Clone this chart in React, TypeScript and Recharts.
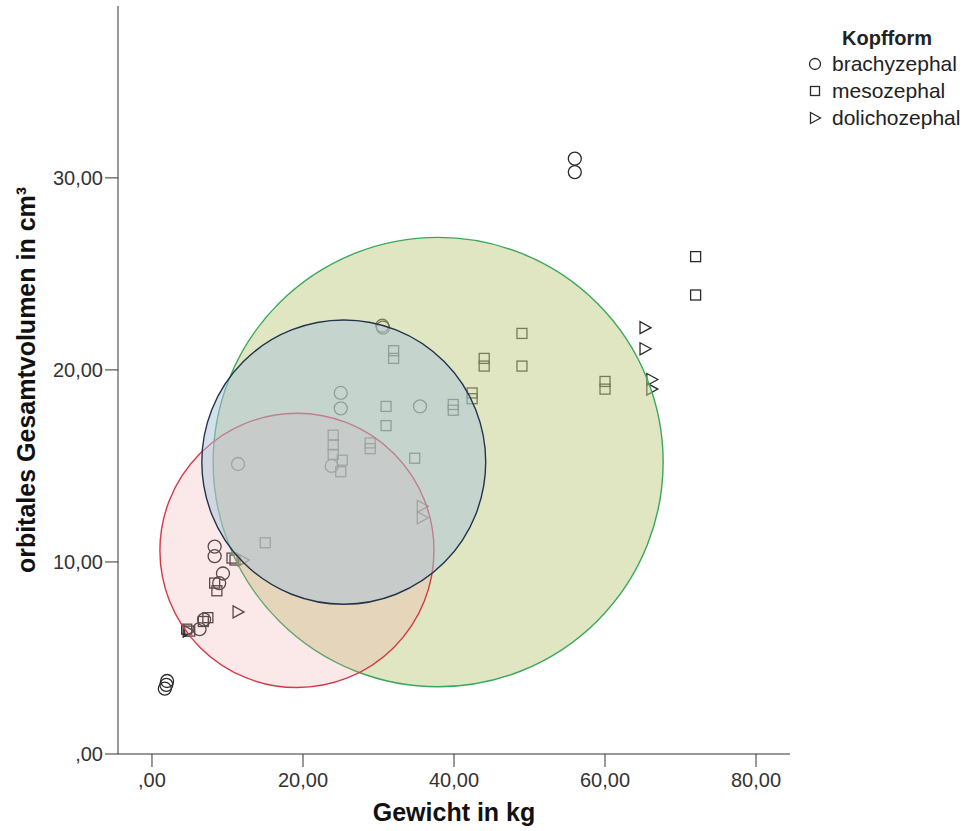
import React from 'react';
import { ScatterChart, Scatter, XAxis, YAxis, ReferenceArea, Legend } from 'recharts';

// Kopfform groups (weight in kg, orbital volume in cm³)
const brachyWeight = [1.7, 1.9, 2.0, 8.3, 8.3, 9.4, 8.9, 6.9, 6.3, 11.4, 23.8, 25.0, 25.0, 30.5, 30.6, 35.5, 56.0, 56.0];
const brachyVolume = [3.4, 3.6, 3.8, 10.8, 10.3, 9.4, 8.9, 7.0, 6.5, 15.1, 15.0, 18.8, 18.0, 22.3, 22.2, 18.1, 31.0, 30.3];

const mesoWeight = [4.6, 5.0, 7.4, 6.8, 8.3, 8.6, 10.6, 11.0, 15.0, 24.0, 24.0, 24.0, 25.2, 25.0, 28.9, 28.9, 31.0, 31.0, 32.0, 32.0, 34.8, 39.9, 39.9, 42.4, 42.4, 44.0, 44.0, 49.0, 49.0, 60.0, 60.0, 72.0, 72.0];
const mesoVolume = [6.5, 6.4, 7.1, 6.9, 8.9, 8.5, 10.2, 10.1, 11.0, 16.6, 16.1, 15.6, 15.3, 14.7, 16.2, 15.9, 18.1, 17.1, 21.0, 20.6, 15.4, 18.2, 17.9, 18.8, 18.5, 20.6, 20.2, 21.9, 20.2, 19.4, 19.0, 25.9, 23.9];

const dolichoWeight = [65.3, 65.3, 66.2, 66.2, 35.8, 35.8, 11.4, 12.1, 4.8];
const dolichoVolume = [22.2, 21.1, 19.5, 19.0, 12.9, 12.3, 7.4, 10.1, 6.4];

const groupNames = ['brachyzephal', 'mesozephal', 'dolichozephal'];

// ellipses in drawing order: green, red, blue (centre and half-axes in data units)
const ellipseCx = [37.9, 19.2, 25.4];
const ellipseCy = [15.2, 10.6, 15.2];
const ellipseRx = [29.8, 18.15, 18.8];
const ellipseRy = [11.7, 7.14, 7.4];

const xTicks = [0, 20, 40, 60, 80];
const yTicks = [0, 10, 20, 30];

const toPoints = (xs: number[], ys: number[]) => xs.map((x, i) => ({ x, y: ys[i] }));
const brachyData = toPoints(brachyWeight, brachyVolume);
const mesoData = toPoints(mesoWeight, mesoVolume);
const dolichoData = toPoints(dolichoWeight, dolichoVolume);

const fmt = (v: number) => (v === 0 ? ',00' : v.toFixed(2).replace('.', ','));

const FONT = '"Liberation Sans", Arial, sans-serif';
const INK = '#2a2a2a';

const CircleMark = (p: any) => (
  <circle cx={p.cx} cy={p.cy} r={6.5} fill="none" stroke={INK} strokeWidth={1.3} />
);
const SquareMark = (p: any) => (
  <rect x={p.cx - 5} y={p.cy - 5} width={10} height={10} fill="none" stroke={INK} strokeWidth={1.3} />
);
const TriangleMark = (p: any) => (
  <path
    d={`M${p.cx - 5},${p.cy - 6}L${p.cx + 6},${p.cy}L${p.cx - 5},${p.cy + 6}Z`}
    fill="none"
    stroke={INK}
    strokeWidth={1.3}
  />
);

const EllipseShape = (p: any) => (
  <ellipse
    cx={p.x + p.width / 2}
    cy={p.y + p.height / 2}
    rx={Math.abs(p.width) / 2}
    ry={Math.abs(p.height) / 2}
    fill={p.fill}
    fillOpacity={p.fillOpacity}
    stroke={p.stroke}
    strokeWidth={1.4}
  />
);

const ellipseStyles = [
  { fill: '#c4cd86', fillOpacity: 0.5, stroke: '#3aa85c' },
  { fill: '#efa3a6', fillOpacity: 0.25, stroke: '#d33a47' },
  { fill: '#a9c3d9', fillOpacity: 0.5, stroke: '#23344d' },
];

const legendMarks = [
  <circle cx={7} cy={7} r={5.5} fill="none" stroke={INK} strokeWidth={1.3} />,
  <rect x={2.5} y={2.5} width={9} height={9} fill="none" stroke={INK} strokeWidth={1.3} />,
  <path d="M2.5,1.5L12.5,7L2.5,12.5Z" fill="none" stroke={INK} strokeWidth={1.3} />,
];

const LegendBox = () => (
  <div style={{ fontFamily: FONT, color: '#222' }}>
    <div style={{ fontWeight: 'bold', fontSize: 20, paddingLeft: 34, height: 24, lineHeight: '24px' }}>Kopfform</div>
    {groupNames.map((name, i) => (
      <div key={name} style={{ display: 'flex', alignItems: 'center', height: 27, fontSize: 21 }}>
        <svg width={14} height={14} style={{ marginRight: 10 }}>
          {legendMarks[i]}
        </svg>
        <span>{name}</span>
      </div>
    ))}
  </div>
);

export default function App() {
  return (
    <div style={{ position: 'absolute', left: 0, top: 0, background: '#fff' }}>
      <ScatterChart width={970} height={831} margin={{ top: 6, right: 180, bottom: 0, left: 0 }}>
        <XAxis
          type="number"
          dataKey="x"
          domain={[-4.5, 84.5]}
          ticks={xTicks}
          tickFormatter={fmt}
          allowDataOverflow
          height={77}
          stroke="#333"
          tickSize={13}
          tickMargin={6}
          tick={{ fill: '#333', fontSize: 20, fontFamily: FONT }}
          label={{
            value: 'Gewicht in kg',
            position: 'insideBottom',
            offset: 10,
            style: { fontFamily: FONT, fontWeight: 'bold', fontSize: 25, fill: '#111' },
          }}
        />
        <YAxis
          type="number"
          dataKey="y"
          domain={[0, 38.95]}
          ticks={yTicks}
          tickFormatter={fmt}
          allowDataOverflow
          width={118}
          stroke="#333"
          tickSize={13}
          tickMargin={2}
          tick={{ fill: '#333', fontSize: 20, fontFamily: FONT }}
          label={{
            value: 'orbitales Gesamtvolumen in cm³',
            angle: -90,
            position: 'insideLeft',
            offset: 26,
            style: { textAnchor: 'middle', fontFamily: FONT, fontWeight: 'bold', fontSize: 25, fill: '#111' },
          }}
        />
        <XAxis xAxisId="top" orientation="top" type="number" domain={[-4.5, 84.5]} height={0} tick={false} tickLine={false} stroke="#444" />
        <YAxis yAxisId="right" orientation="right" type="number" domain={[0, 38.95]} width={0} tick={false} tickLine={false} stroke="#444" />

        <Scatter name={groupNames[0]} data={brachyData} shape={CircleMark} isAnimationActive={false} />
        <Scatter name={groupNames[1]} data={mesoData} shape={SquareMark} isAnimationActive={false} />
        <Scatter name={groupNames[2]} data={dolichoData} shape={TriangleMark} isAnimationActive={false} />

        {ellipseCx.map((cx, i) => (
          <ReferenceArea
            key={i}
            x1={cx - ellipseRx[i]}
            x2={cx + ellipseRx[i]}
            y1={ellipseCy[i] - ellipseRy[i]}
            y2={ellipseCy[i] + ellipseRy[i]}
            ifOverflow="visible"
            shape={EllipseShape}
            zIndex={700 + i}
            {...ellipseStyles[i]}
          />
        ))}

        <Legend
          layout="vertical"
          align="center"
          verticalAlign="middle"
          content={<LegendBox />}
          wrapperStyle={{ left: 808, top: 26, width: 162, height: 110 }}
        />
      </ScatterChart>
    </div>
  );
}
